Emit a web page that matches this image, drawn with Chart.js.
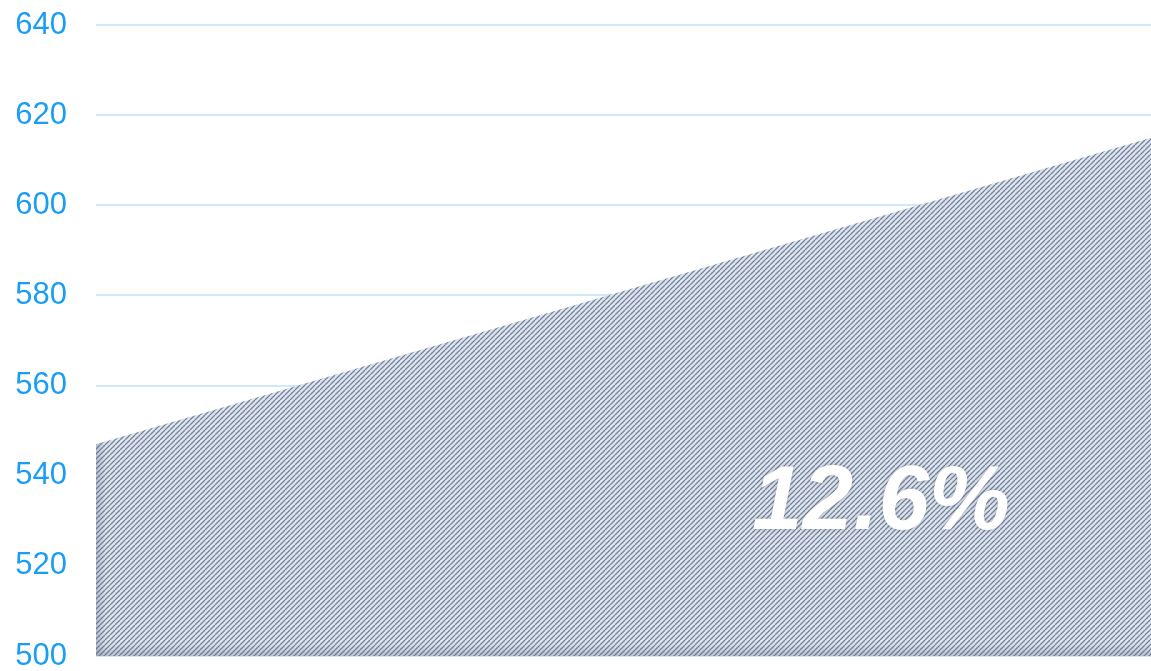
<!DOCTYPE html>
<html>
<head>
<meta charset="utf-8">
<script src="https://cdn.jsdelivr.net/npm/chart.js@4/dist/chart.umd.min.js"></script>
<style>
html,body{margin:0;padding:0;background:#fff;}
#wrap{width:1151px;height:671px;position:relative;}
</style>
</head>
<body>
<div id="wrap"><canvas id="c" width="1151" height="671"></canvas></div>
<script>
const categories = ["Start", "End"];
const values = [547, 615];
const tickValues = [500, 520, 540, 560, 580, 600, 620, 640];
const growthLabel = "12.6%";

function makePattern() {
  const s = 5;
  const p = document.createElement('canvas');
  p.width = s; p.height = s;
  const g = p.getContext('2d');
  g.fillStyle = '#dfe5ee';
  g.fillRect(0, 0, s, s);
  g.strokeStyle = '#74839a';
  g.lineWidth = 1.3;
  g.beginPath();
  for (let k = -1; k <= 1; k++) {
    g.moveTo(k * s, s);
    g.lineTo(k * s + s, 0);
  }
  g.stroke();
  return g.createPattern(p, 'repeat');
}

const labelPlugin = {
  id: 'growthLabel',
  afterDatasetsDraw(chart) {
    const ctx = chart.ctx;
    const xs = chart.scales.x, ys = chart.scales.y;
    const area = chart.chartArea;
    const meta = chart.getDatasetMeta(0);
    const p0 = meta.data[0], p1 = meta.data[1];
    ctx.save();
    ctx.beginPath();
    ctx.moveTo(p0.x, p0.y); ctx.lineTo(p1.x, p1.y);
    ctx.lineTo(p1.x, area.bottom); ctx.lineTo(p0.x, area.bottom); ctx.closePath();
    ctx.clip();
    const gl = ctx.createLinearGradient(area.left, 0, area.left + 10, 0);
    gl.addColorStop(0, 'rgba(90,105,130,0.3)');
    gl.addColorStop(1, 'rgba(90,105,130,0)');
    ctx.fillStyle = gl;
    ctx.fillRect(area.left, area.top, 10, area.bottom - area.top);
    const gb = ctx.createLinearGradient(0, area.bottom - 12, 0, area.bottom);
    gb.addColorStop(0, 'rgba(90,105,130,0)');
    gb.addColorStop(1, 'rgba(90,105,130,0.3)');
    ctx.fillStyle = gb;
    ctx.fillRect(area.left, area.bottom - 12, area.right - area.left, 12);
    ctx.restore();

    ctx.save();
    ctx.font = 'italic bold 91px "Liberation Sans", Arial, sans-serif';
    ctx.textAlign = 'center';
    ctx.textBaseline = 'middle';
    ctx.shadowColor = 'rgba(60,70,90,0.35)';
    ctx.shadowBlur = 4;
    ctx.fillStyle = '#ffffff';
    const x = xs.left + (xs.right - xs.left) * 0.744;
    const y = ys.getPixelForValue(533.8);
    ctx.fillText(growthLabel, x, y);
    ctx.restore();
  }
};

new Chart(document.getElementById('c'), {
  type: 'line',
  data: {
    labels: categories,
    datasets: [{
      data: values,
      fill: 'origin',
      backgroundColor: makePattern(),
      borderWidth: 0,
      borderColor: 'rgba(0,0,0,0)',
      pointRadius: 0,
      tension: 0
    }]
  },
  options: {
    responsive: false,
    animation: false,
    events: [],
    layout: { padding: { top: 25, right: 0, bottom: 15, left: 0 } },
    plugins: { legend: { display: false }, tooltip: { enabled: false } },
    scales: {
      x: {
        display: false,
        offset: false
      },
      y: {
        min: 500,
        max: 640,
        afterBuildTicks(axis) { axis.ticks = tickValues.map(v => ({ value: v })); },
        afterFit(axis) { axis.width = 96; axis.paddingTop = 0; axis.paddingBottom = 0; },
        grid: { color: '#cfe8fb', lineWidth: 2, drawTicks: false },
        border: { display: false },
        ticks: {
          color: '#1a9df4',
          font: { family: '"Liberation Sans", Arial, sans-serif', size: 31 },
          padding: 29
        }
      }
    }
  },
  plugins: [labelPlugin]
});
</script>
</body>
</html>
